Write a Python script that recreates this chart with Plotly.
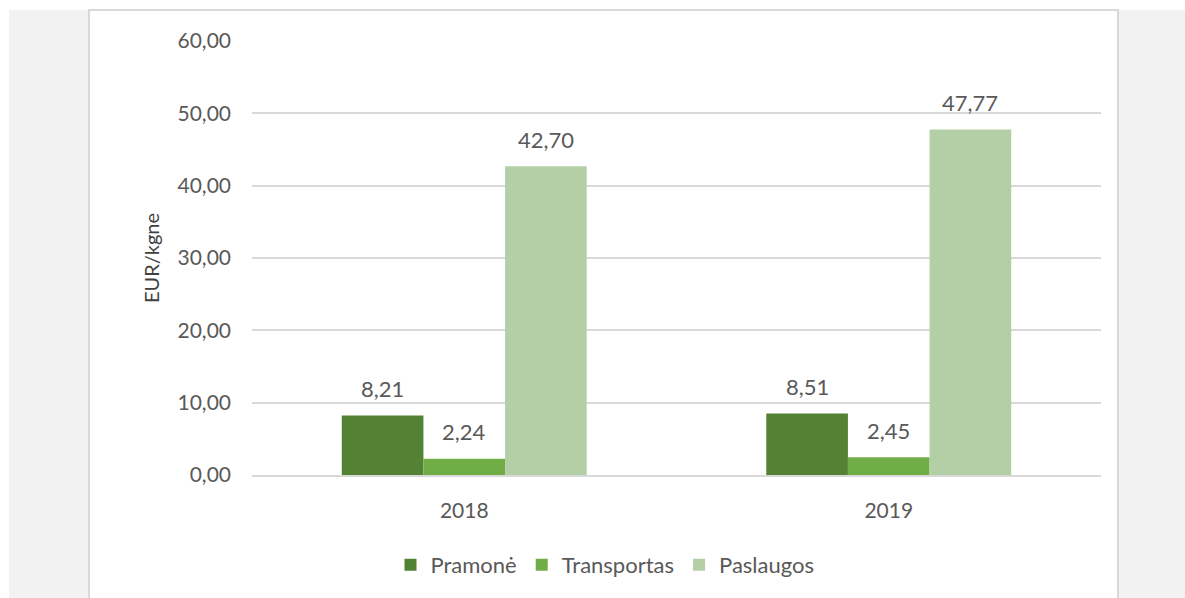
import plotly.graph_objects as go

years = ["2018", "2019"]
series_names = ["Pramonė", "Transportas", "Paslaugos"]
pramone = [8.21, 8.51]
transportas = [2.24, 2.45]
paslaugos = [42.70, 47.77]
y_ticks = [0, 10, 20, 30, 40, 50, 60]
y_tick_labels = ["0,00", "10,00", "20,00", "30,00", "40,00", "50,00", "60,00"]

colors = ["#548235", "#70AD47", "#B4CFA6"]
FONT = "Lato"
GRAY = "#595959"

W, H = 1185, 598
ML, MR, MT, MB = 252, 84, 41, 123
PW, PH = W - ML - MR, H - MT - MB

def px_x(p):
    return (p - ML) / PW

def px_y(p):
    return (H - MB - p) / PH

bargap = 0.423
bar_w = (1 - bargap) / 3

fig = go.Figure()
all_vals = [pramone, transportas, paslaugos]
for name, vals, c in zip(series_names, all_vals, colors):
    fig.add_trace(go.Bar(x=years, y=vals, name=name, marker=dict(color=c, line=dict(width=0))))

annotations = []
for i, vals in enumerate(all_vals):
    for j, v in enumerate(vals):
        annotations.append(dict(
            x=j + (i - 1) * bar_w, y=v, xref="x", yref="y",
            text=f"{v:.2f}".replace(".", ","), showarrow=False,
            yshift=27, font=dict(family=FONT, size=22, color=GRAY)))

shapes = [
    dict(type="rect", xref="paper", yref="paper", layer="below",
         x0=px_x(9), x1=px_x(1185), y0=px_y(598), y1=px_y(10),
         fillcolor="#F2F2F2", line=dict(width=0)),
    dict(type="rect", xref="paper", yref="paper", layer="below",
         x0=px_x(89), x1=px_x(1118), y0=px_y(600), y1=px_y(10),
         fillcolor="white", line=dict(color="#D9D9D9", width=2)),
]

fig.update_layout(
    width=W, height=H,
    margin=dict(l=ML, r=MR, t=MT, b=MB, autoexpand=False),
    paper_bgcolor="white", plot_bgcolor="rgba(0,0,0,0)",
    barmode="group", bargap=bargap, bargroupgap=0,
    font=dict(family=FONT, size=21, color=GRAY),
    showlegend=True,
    legend=dict(orientation="h", x=px_x(605), xanchor="center", y=px_y(565), yanchor="middle",
                font=dict(family=FONT, size=22, color=GRAY), itemwidth=30,
                traceorder="normal", bgcolor="rgba(0,0,0,0)"),
    xaxis=dict(showgrid=False, showline=True, linecolor="#D9D9D9", linewidth=2,
               ticks="", ticklabelstandoff=16, tickfont=dict(family=FONT, size=21, color=GRAY),
               fixedrange=True),
    yaxis=dict(range=[0, 60], tickvals=y_ticks, ticktext=y_tick_labels,
               showgrid=True, gridcolor="#D9D9D9", gridwidth=2, zeroline=False,
               showline=False, ticks="", ticklabelstandoff=20,
               tickfont=dict(family=FONT, size=21, color=GRAY),
               title=dict(text="EUR/kgne", standoff=12,
                          font=dict(family=FONT, size=20, color="#404040"))),
    shapes=shapes,
    annotations=annotations,
)

fig.write_html("out.html")
